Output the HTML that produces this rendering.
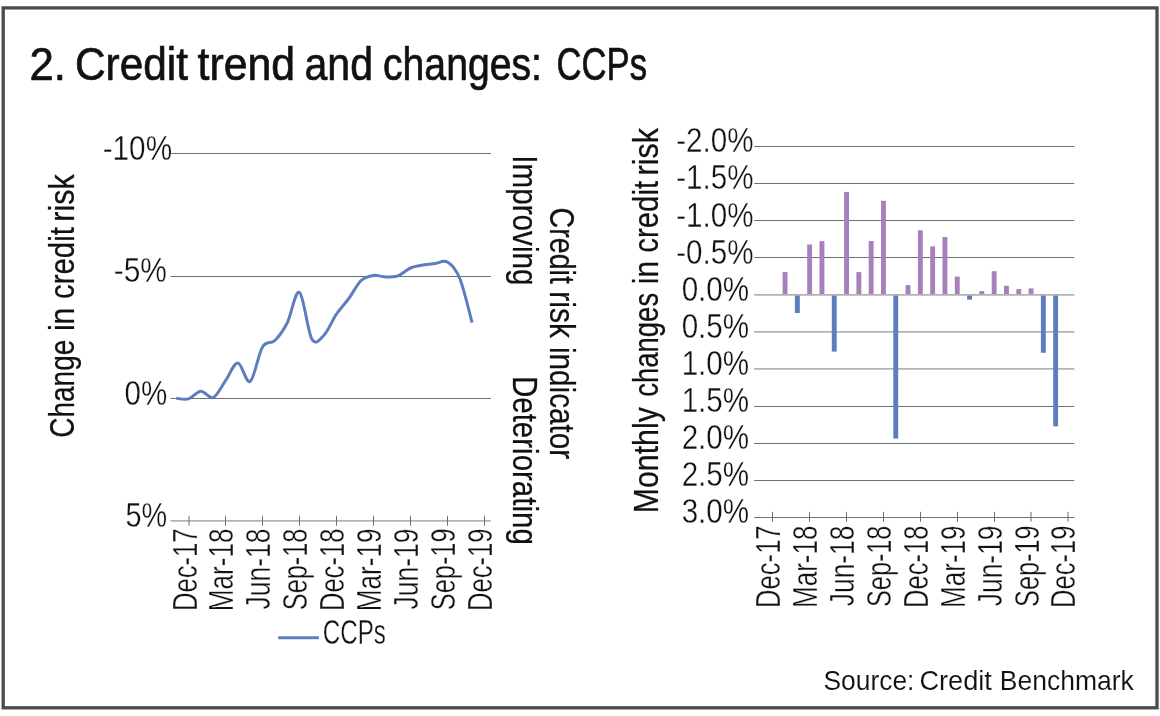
<!DOCTYPE html>
<html lang="en">
<head>
<meta charset="utf-8">
<title>2. Credit trend and changes: CCPs</title>
<style>
html,body{margin:0;padding:0;background:#fff;}
body{width:1160px;height:716px;overflow:hidden;}
svg{display:block;font-family:'Liberation Sans', sans-serif;font-kerning:none;}
</style>
</head>
<body>
<svg width="1160" height="716" viewBox="0 0 1160 716">
<rect width="1160" height="716" fill="#fff"/>
<rect x="3.2" y="7.9" width="1153.8" height="699.9" fill="#fff" stroke="#4b4b4b" stroke-width="3.3"/>
<text transform="translate(29.50,80.00)" font-size="47" fill="#111" stroke="#111" stroke-width="0.7" textLength="36.50" lengthAdjust="spacingAndGlyphs">2.</text>
<text transform="translate(75.00,80.00)" font-size="47" fill="#111" stroke="#111" stroke-width="0.7" textLength="113.00" lengthAdjust="spacingAndGlyphs">Credit</text>
<text transform="translate(197.50,80.00)" font-size="47" fill="#111" stroke="#111" stroke-width="0.7" textLength="97.50" lengthAdjust="spacingAndGlyphs">trend</text>
<text transform="translate(304.50,80.00)" font-size="47" fill="#111" stroke="#111" stroke-width="0.7" textLength="68.50" lengthAdjust="spacingAndGlyphs">and</text>
<text transform="translate(383.00,80.00)" font-size="47" fill="#111" stroke="#111" stroke-width="0.7" textLength="159.00" lengthAdjust="spacingAndGlyphs">changes:</text>
<text transform="translate(556.50,80.00)" font-size="47" fill="#111" stroke="#111" stroke-width="0.7" textLength="90.50" lengthAdjust="spacingAndGlyphs">CCPs</text>
<line x1="170.50" x2="491.00" y1="153.5" y2="153.5" stroke="#6f6f6f" stroke-width="1"/>
<line x1="170.50" x2="491.00" y1="276.5" y2="276.5" stroke="#6f6f6f" stroke-width="1"/>
<line x1="170.50" x2="491.00" y1="398.5" y2="398.5" stroke="#6f6f6f" stroke-width="1"/>
<line x1="170.50" x2="490.70" y1="520.90" y2="520.90" stroke="#b3b3b3" stroke-width="1.8"/>
<line x1="189.00" x2="189.00" y1="515.8" y2="525.7" stroke="#6f6f6f" stroke-width="1"/>
<line x1="225.50" x2="225.50" y1="515.8" y2="525.7" stroke="#6f6f6f" stroke-width="1"/>
<line x1="262.50" x2="262.50" y1="515.8" y2="525.7" stroke="#6f6f6f" stroke-width="1"/>
<line x1="299.50" x2="299.50" y1="515.8" y2="525.7" stroke="#6f6f6f" stroke-width="1"/>
<line x1="336.50" x2="336.50" y1="515.8" y2="525.7" stroke="#6f6f6f" stroke-width="1"/>
<line x1="373.50" x2="373.50" y1="515.8" y2="525.7" stroke="#6f6f6f" stroke-width="1"/>
<line x1="410.50" x2="410.50" y1="515.8" y2="525.7" stroke="#6f6f6f" stroke-width="1"/>
<line x1="447.50" x2="447.50" y1="515.8" y2="525.7" stroke="#6f6f6f" stroke-width="1"/>
<line x1="484.50" x2="484.50" y1="515.8" y2="525.7" stroke="#6f6f6f" stroke-width="1"/>
<text transform="translate(102.68,159.70)" font-size="34.5" fill="#111" stroke="#fff" stroke-width="0.35" textLength="69.38" lengthAdjust="spacingAndGlyphs">-10%</text>
<text transform="translate(113.67,282.00)" font-size="34.5" fill="#111" stroke="#fff" stroke-width="0.35" textLength="53.20" lengthAdjust="spacingAndGlyphs">-5%</text>
<text transform="translate(124.45,404.70)" font-size="34.5" fill="#111" stroke="#fff" stroke-width="0.35" textLength="42.71" lengthAdjust="spacingAndGlyphs">0%</text>
<text transform="translate(125.45,527.20)" font-size="34.5" fill="#111" stroke="#fff" stroke-width="0.35" textLength="41.68" lengthAdjust="spacingAndGlyphs">5%</text>
<text transform="translate(196.60,611.10) rotate(-90)" font-size="34.5" fill="#111" stroke="#fff" stroke-width="0.35" textLength="82.69" lengthAdjust="spacingAndGlyphs">Dec-17</text>
<text transform="translate(233.10,611.14) rotate(-90)" font-size="34.5" fill="#111" stroke="#fff" stroke-width="0.35" textLength="82.57" lengthAdjust="spacingAndGlyphs">Mar-18</text>
<text transform="translate(270.10,609.41) rotate(-90)" font-size="34.5" fill="#111" stroke="#fff" stroke-width="0.35" textLength="80.86" lengthAdjust="spacingAndGlyphs">Jun-18</text>
<text transform="translate(307.10,610.15) rotate(-90)" font-size="34.5" fill="#111" stroke="#fff" stroke-width="0.35" textLength="81.55" lengthAdjust="spacingAndGlyphs">Sep-18</text>
<text transform="translate(344.10,611.10) rotate(-90)" font-size="34.5" fill="#111" stroke="#fff" stroke-width="0.35" textLength="82.51" lengthAdjust="spacingAndGlyphs">Dec-18</text>
<text transform="translate(381.10,611.14) rotate(-90)" font-size="34.5" fill="#111" stroke="#fff" stroke-width="0.35" textLength="82.68" lengthAdjust="spacingAndGlyphs">Mar-19</text>
<text transform="translate(418.10,609.41) rotate(-90)" font-size="34.5" fill="#111" stroke="#fff" stroke-width="0.35" textLength="80.97" lengthAdjust="spacingAndGlyphs">Jun-19</text>
<text transform="translate(455.10,610.15) rotate(-90)" font-size="34.5" fill="#111" stroke="#fff" stroke-width="0.35" textLength="81.65" lengthAdjust="spacingAndGlyphs">Sep-19</text>
<text transform="translate(492.10,611.10) rotate(-90)" font-size="34.5" fill="#111" stroke="#fff" stroke-width="0.35" textLength="82.62" lengthAdjust="spacingAndGlyphs">Dec-19</text>
<text transform="translate(74.30,437.72) rotate(-90)" font-size="35.0" fill="#111" stroke="#111" stroke-width="0.25" textLength="97.96" lengthAdjust="spacingAndGlyphs">Change</text>
<text transform="translate(74.30,331.12) rotate(-90)" font-size="35.0" fill="#111" stroke="#111" stroke-width="0.25" textLength="23.48" lengthAdjust="spacingAndGlyphs">in</text>
<text transform="translate(74.30,298.95) rotate(-90)" font-size="35.0" fill="#111" stroke="#111" stroke-width="0.25" textLength="71.86" lengthAdjust="spacingAndGlyphs">credit</text>
<text transform="translate(74.30,221.63) rotate(-90)" font-size="35.0" fill="#111" stroke="#111" stroke-width="0.25" textLength="47.48" lengthAdjust="spacingAndGlyphs">risk</text>
<text transform="translate(512.80,155.26) rotate(90)" font-size="35.0" fill="#111" stroke="#111" stroke-width="0.25" textLength="130.25" lengthAdjust="spacingAndGlyphs">Improving</text>
<text transform="translate(512.80,375.98) rotate(90)" font-size="35.0" fill="#111" stroke="#111" stroke-width="0.25" textLength="168.82" lengthAdjust="spacingAndGlyphs">Deteriorating</text>
<text transform="translate(549.80,207.55) rotate(90)" font-size="35.0" fill="#111" stroke="#111" stroke-width="0.25" textLength="76.36" lengthAdjust="spacingAndGlyphs">Credit</text>
<text transform="translate(549.80,291.30) rotate(90)" font-size="35.0" fill="#111" stroke="#111" stroke-width="0.25" textLength="46.86" lengthAdjust="spacingAndGlyphs">risk</text>
<text transform="translate(549.80,347.02) rotate(90)" font-size="35.0" fill="#111" stroke="#111" stroke-width="0.25" textLength="112.08" lengthAdjust="spacingAndGlyphs">indicator</text>
<path d="M176.20,398.30 C178.25,398.40 184.42,400.08 188.53,398.90 C192.64,397.72 196.75,391.43 200.86,391.20 C204.97,390.97 209.08,399.25 213.19,397.50 C217.30,395.75 221.41,386.45 225.52,380.70 C229.63,374.95 233.74,362.88 237.85,363.00 C241.96,363.12 246.07,384.07 250.18,381.40 C254.29,378.73 258.40,353.82 262.51,347.00 C266.62,340.18 270.73,344.50 274.84,340.50 C278.95,336.50 283.06,331.00 287.17,323.00 C291.28,315.00 295.39,289.83 299.50,292.50 C303.61,295.17 307.72,331.92 311.83,339.00 C315.94,346.08 320.05,339.17 324.16,335.00 C328.27,330.83 332.38,320.08 336.49,314.00 C340.60,307.92 344.71,304.08 348.82,298.50 C352.93,292.92 357.04,284.35 361.15,280.50 C365.26,276.65 369.37,275.98 373.48,275.40 C377.59,274.82 381.70,276.93 385.81,277.00 C389.92,277.07 394.03,277.30 398.14,275.80 C402.25,274.30 406.36,269.78 410.47,268.00 C414.58,266.22 418.69,265.85 422.80,265.10 C426.91,264.35 431.02,264.02 435.13,263.50 C439.24,262.98 443.35,259.50 447.46,262.00 C451.57,264.50 455.68,268.40 459.79,278.50 C463.90,288.60 470.06,315.25 472.12,322.60" fill="none" stroke="#5d7dbf" stroke-width="3" stroke-linejoin="round"/>
<line x1="278.2" x2="318.9" y1="637.8" y2="637.8" stroke="#5d7dbf" stroke-width="3"/>
<text transform="translate(322.77,644.00)" font-size="34.5" fill="#111" stroke="#fff" stroke-width="0.35" textLength="63.10" lengthAdjust="spacingAndGlyphs">CCPs</text>
<line x1="754.20" x2="1074.30" y1="146.5" y2="146.5" stroke="#6f6f6f" stroke-width="1"/>
<line x1="754.20" x2="1074.30" y1="183.5" y2="183.5" stroke="#6f6f6f" stroke-width="1"/>
<line x1="754.20" x2="1074.30" y1="220.5" y2="220.5" stroke="#6f6f6f" stroke-width="1"/>
<line x1="754.20" x2="1074.30" y1="257.5" y2="257.5" stroke="#6f6f6f" stroke-width="1"/>
<line x1="754.20" x2="1074.30" y1="331.80" y2="331.80" stroke="#b3b3b3" stroke-width="1.8"/>
<line x1="754.20" x2="1074.30" y1="368.90" y2="368.90" stroke="#b3b3b3" stroke-width="1.8"/>
<line x1="754.20" x2="1074.30" y1="406.5" y2="406.5" stroke="#6f6f6f" stroke-width="1"/>
<line x1="754.20" x2="1074.30" y1="443.5" y2="443.5" stroke="#6f6f6f" stroke-width="1"/>
<line x1="754.20" x2="1074.30" y1="480.5" y2="480.5" stroke="#6f6f6f" stroke-width="1"/>
<line x1="754.20" x2="1074.30" y1="517.5" y2="517.5" stroke="#6f6f6f" stroke-width="1"/>
<rect x="782.60" y="272.10" width="4.9" height="22.70" fill="#a680bc"/>
<rect x="794.90" y="294.80" width="4.9" height="18.20" fill="#5d7dbf"/>
<rect x="807.20" y="244.50" width="4.9" height="50.30" fill="#a680bc"/>
<rect x="819.50" y="241.10" width="4.9" height="53.70" fill="#a680bc"/>
<rect x="831.80" y="294.80" width="4.9" height="56.80" fill="#5d7dbf"/>
<rect x="844.10" y="191.90" width="4.9" height="102.90" fill="#a680bc"/>
<rect x="856.40" y="272.10" width="4.9" height="22.70" fill="#a680bc"/>
<rect x="868.70" y="241.00" width="4.9" height="53.80" fill="#a680bc"/>
<rect x="881.00" y="200.80" width="4.9" height="94.00" fill="#a680bc"/>
<rect x="893.30" y="294.80" width="4.9" height="143.80" fill="#5d7dbf"/>
<rect x="905.60" y="285.10" width="4.9" height="9.70" fill="#a680bc"/>
<rect x="917.90" y="230.30" width="4.9" height="64.50" fill="#a680bc"/>
<rect x="930.20" y="246.40" width="4.9" height="48.40" fill="#a680bc"/>
<rect x="942.50" y="237.00" width="4.9" height="57.80" fill="#a680bc"/>
<rect x="954.80" y="276.60" width="4.9" height="18.20" fill="#a680bc"/>
<rect x="967.10" y="294.80" width="4.9" height="4.80" fill="#5d7dbf"/>
<rect x="979.40" y="291.10" width="4.9" height="3.70" fill="#a680bc"/>
<rect x="991.70" y="271.20" width="4.9" height="23.60" fill="#a680bc"/>
<rect x="1004.00" y="285.80" width="4.9" height="9.00" fill="#a680bc"/>
<rect x="1016.30" y="289.10" width="4.9" height="5.70" fill="#a680bc"/>
<rect x="1028.60" y="288.40" width="4.9" height="6.40" fill="#a680bc"/>
<rect x="1040.90" y="294.80" width="4.9" height="58.00" fill="#5d7dbf"/>
<rect x="1053.20" y="294.80" width="4.9" height="131.50" fill="#5d7dbf"/>
<line x1="754.20" x2="1074.30" y1="294.80" y2="294.80" stroke="#b3b3b3" stroke-width="1.8"/>
<line x1="772.5" x2="772.5" y1="511.8" y2="521.8" stroke="#6f6f6f" stroke-width="1"/>
<line x1="809.5" x2="809.5" y1="511.8" y2="521.8" stroke="#6f6f6f" stroke-width="1"/>
<line x1="846.5" x2="846.5" y1="511.8" y2="521.8" stroke="#6f6f6f" stroke-width="1"/>
<line x1="883.5" x2="883.5" y1="511.8" y2="521.8" stroke="#6f6f6f" stroke-width="1"/>
<line x1="920.5" x2="920.5" y1="511.8" y2="521.8" stroke="#6f6f6f" stroke-width="1"/>
<line x1="957.5" x2="957.5" y1="511.8" y2="521.8" stroke="#6f6f6f" stroke-width="1"/>
<line x1="994.5" x2="994.5" y1="511.8" y2="521.8" stroke="#6f6f6f" stroke-width="1"/>
<line x1="1031.0" x2="1031.0" y1="511.8" y2="521.8" stroke="#6f6f6f" stroke-width="1"/>
<line x1="1068.0" x2="1068.0" y1="511.8" y2="521.8" stroke="#6f6f6f" stroke-width="1"/>
<text transform="translate(676.19,152.30)" font-size="34.5" fill="#111" stroke="#fff" stroke-width="0.35" textLength="77.27" lengthAdjust="spacingAndGlyphs">-2.0%</text>
<text transform="translate(676.19,189.40)" font-size="34.5" fill="#111" stroke="#fff" stroke-width="0.35" textLength="77.27" lengthAdjust="spacingAndGlyphs">-1.5%</text>
<text transform="translate(676.19,226.50)" font-size="34.5" fill="#111" stroke="#fff" stroke-width="0.35" textLength="77.27" lengthAdjust="spacingAndGlyphs">-1.0%</text>
<text transform="translate(676.19,263.60)" font-size="34.5" fill="#111" stroke="#fff" stroke-width="0.35" textLength="77.27" lengthAdjust="spacingAndGlyphs">-0.5%</text>
<text transform="translate(681.64,300.70)" font-size="34.5" fill="#111" stroke="#fff" stroke-width="0.35" textLength="67.51" lengthAdjust="spacingAndGlyphs">0.0%</text>
<text transform="translate(681.64,337.80)" font-size="34.5" fill="#111" stroke="#fff" stroke-width="0.35" textLength="67.51" lengthAdjust="spacingAndGlyphs">0.5%</text>
<text transform="translate(681.64,374.90)" font-size="34.5" fill="#111" stroke="#fff" stroke-width="0.35" textLength="67.51" lengthAdjust="spacingAndGlyphs">1.0%</text>
<text transform="translate(681.64,412.00)" font-size="34.5" fill="#111" stroke="#fff" stroke-width="0.35" textLength="67.51" lengthAdjust="spacingAndGlyphs">1.5%</text>
<text transform="translate(681.64,449.10)" font-size="34.5" fill="#111" stroke="#fff" stroke-width="0.35" textLength="67.51" lengthAdjust="spacingAndGlyphs">2.0%</text>
<text transform="translate(681.64,486.20)" font-size="34.5" fill="#111" stroke="#fff" stroke-width="0.35" textLength="67.51" lengthAdjust="spacingAndGlyphs">2.5%</text>
<text transform="translate(681.64,523.30)" font-size="34.5" fill="#111" stroke="#fff" stroke-width="0.35" textLength="67.51" lengthAdjust="spacingAndGlyphs">3.0%</text>
<text transform="translate(780.00,607.90) rotate(-90)" font-size="34.5" fill="#111" stroke="#fff" stroke-width="0.35" textLength="82.49" lengthAdjust="spacingAndGlyphs">Dec-17</text>
<text transform="translate(817.00,607.93) rotate(-90)" font-size="34.5" fill="#111" stroke="#fff" stroke-width="0.35" textLength="82.36" lengthAdjust="spacingAndGlyphs">Mar-18</text>
<text transform="translate(854.00,606.21) rotate(-90)" font-size="34.5" fill="#111" stroke="#fff" stroke-width="0.35" textLength="80.66" lengthAdjust="spacingAndGlyphs">Jun-18</text>
<text transform="translate(891.00,606.95) rotate(-90)" font-size="34.5" fill="#111" stroke="#fff" stroke-width="0.35" textLength="81.34" lengthAdjust="spacingAndGlyphs">Sep-18</text>
<text transform="translate(928.00,607.89) rotate(-90)" font-size="34.5" fill="#111" stroke="#fff" stroke-width="0.35" textLength="82.30" lengthAdjust="spacingAndGlyphs">Dec-18</text>
<text transform="translate(965.00,607.94) rotate(-90)" font-size="34.5" fill="#111" stroke="#fff" stroke-width="0.35" textLength="82.47" lengthAdjust="spacingAndGlyphs">Mar-19</text>
<text transform="translate(1002.00,606.21) rotate(-90)" font-size="34.5" fill="#111" stroke="#fff" stroke-width="0.35" textLength="80.76" lengthAdjust="spacingAndGlyphs">Jun-19</text>
<text transform="translate(1038.50,606.95) rotate(-90)" font-size="34.5" fill="#111" stroke="#fff" stroke-width="0.35" textLength="81.44" lengthAdjust="spacingAndGlyphs">Sep-19</text>
<text transform="translate(1074.60,607.90) rotate(-90)" font-size="34.5" fill="#111" stroke="#fff" stroke-width="0.35" textLength="82.41" lengthAdjust="spacingAndGlyphs">Dec-19</text>
<text transform="translate(657.70,513.29) rotate(-90)" font-size="35.0" fill="#111" stroke="#111" stroke-width="0.25" textLength="106.15" lengthAdjust="spacingAndGlyphs">Monthly</text>
<text transform="translate(657.70,396.87) rotate(-90)" font-size="35.0" fill="#111" stroke="#111" stroke-width="0.25" textLength="104.06" lengthAdjust="spacingAndGlyphs">changes</text>
<text transform="translate(657.70,284.19) rotate(-90)" font-size="35.0" fill="#111" stroke="#111" stroke-width="0.25" textLength="23.12" lengthAdjust="spacingAndGlyphs">in</text>
<text transform="translate(657.70,252.75) rotate(-90)" font-size="35.0" fill="#111" stroke="#111" stroke-width="0.25" textLength="71.86" lengthAdjust="spacingAndGlyphs">credit</text>
<text transform="translate(657.70,175.42) rotate(-90)" font-size="35.0" fill="#111" stroke="#111" stroke-width="0.25" textLength="47.38" lengthAdjust="spacingAndGlyphs">risk</text>
<text transform="translate(823.50,689.70)" font-size="27.5" fill="#111" stroke="#fff" stroke-width="0.1" textLength="90.91" lengthAdjust="spacingAndGlyphs">Source:</text>
<text transform="translate(919.42,689.70)" font-size="27.5" fill="#111" stroke="#fff" stroke-width="0.1" textLength="72.48" lengthAdjust="spacingAndGlyphs">Credit</text>
<text transform="translate(999.83,689.70)" font-size="27.5" fill="#111" stroke="#fff" stroke-width="0.1" textLength="134.04" lengthAdjust="spacingAndGlyphs">Benchmark</text>
</svg>
</body>
</html>
